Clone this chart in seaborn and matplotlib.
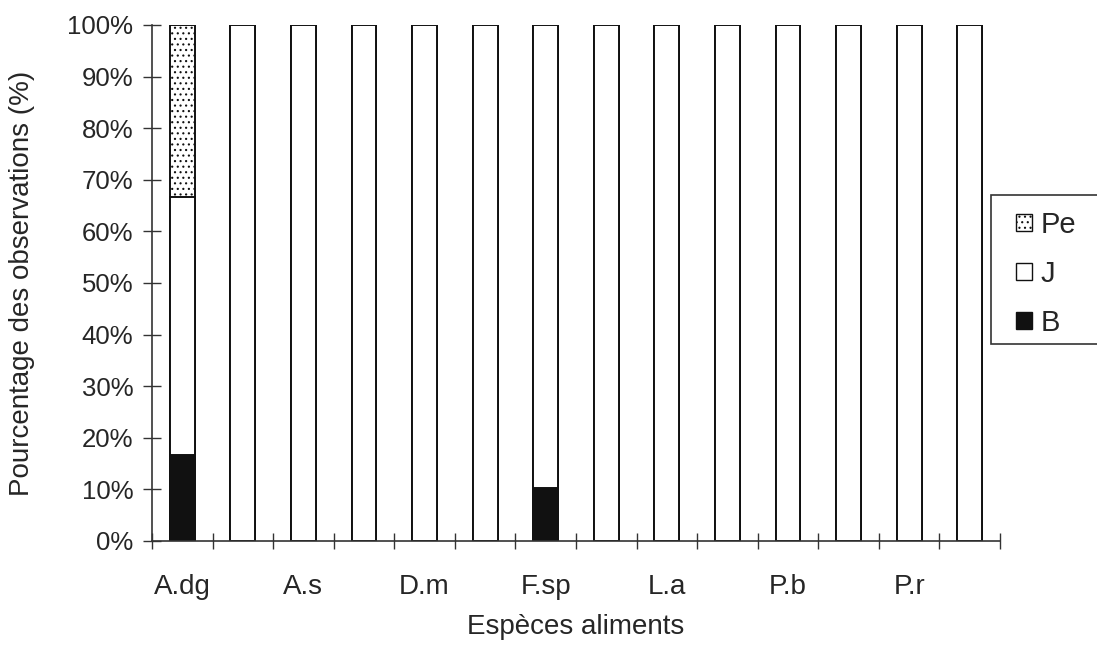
import matplotlib
matplotlib.use("Agg")
import matplotlib.pyplot as plt
from matplotlib.patches import Patch, Rectangle
from matplotlib.ticker import FixedLocator, PercentFormatter
import numpy as np
import pandas as pd
import seaborn as sns

# Food species (only every other label is printed on the axis)
tick_labels = ["A.dg", "", "A.s", "", "D.m", "", "F.sp", "", "L.a", "", "P.b", "", "P.r", ""]

# Share of observations per stage (%)
b_values = [16.7, 0, 0, 0, 0, 0, 10.3, 0, 0, 0, 0, 0, 0, 0]
j_values = [50.0, 100, 100, 100, 100, 100, 89.7, 100, 100, 100, 100, 100, 100, 100]
pe_values = [33.3, 0, 0, 0, 0, 0, 0, 0, 0, 0, 0, 0, 0, 0]

series_names = ["Pe", "J", "B"]

sns.set_style("white")
plt.rcParams["font.family"] = ["Liberation Sans", "DejaVu Sans"]
plt.rcParams["hatch.color"] = "#222222"
plt.rcParams["hatch.linewidth"] = 0.8

df = pd.DataFrame({
    "pos": np.arange(len(tick_labels)),
    "B": b_values,
    "J": j_values,
    "Pe": pe_values,
})
df["top_J"] = df["B"] + df["J"]
df["top_Pe"] = df["top_J"] + df["Pe"]

fig = plt.figure(figsize=(10.97, 6.52), dpi=100)
ax = fig.add_axes([152 / 1097, (652 - 541) / 652, (1000 - 152) / 1097, (541 - 25) / 652])

bar_kw = dict(native_scale=True, width=0.41, edgecolor="#111111", linewidth=1.4, errorbar=None, ax=ax)
# Stacked bars drawn from the tallest cumulative layer downwards
sns.barplot(data=df, x="pos", y="top_Pe", color="white", hatch="...", **bar_kw)
sns.barplot(data=df, x="pos", y="top_J", color="white", **bar_kw)
sns.barplot(data=df, x="pos", y="B", color="#111111", **bar_kw)

ax.set_xlim(-0.5, len(tick_labels) - 0.5)
ax.set_ylim(0, 100)

# y axis: percent ticks crossing the spine
ax.yaxis.set_major_locator(FixedLocator(np.arange(0, 101, 10)))
ax.yaxis.set_major_formatter(PercentFormatter(decimals=0))
ax.tick_params(axis="y", which="major", direction="inout", length=13, width=1,
               color="#333333", labelsize=18.5, pad=7, left=True)

# x axis: tick marks between categories, labels under the bars
ax.set_xticks(df["pos"].to_numpy())
ax.set_xticklabels(tick_labels)
ax.xaxis.set_minor_locator(FixedLocator(np.arange(-0.5, len(tick_labels), 1.0)))
ax.tick_params(axis="x", which="major", length=0, labelsize=20, pad=24)
ax.tick_params(axis="x", which="minor", direction="inout", length=11, width=1,
               color="#333333", bottom=True)

for side in ["top", "right"]:
    ax.spines[side].set_visible(False)
for side in ["left", "bottom"]:
    ax.spines[side].set_color("#333333")
    ax.spines[side].set_linewidth(1.2)

label_font = dict(fontsize=20)
ax.set_xlabel("Espèces aliments", **label_font)
ax.set_ylabel("Pourcentage des observations (%)", **label_font)
ax.xaxis.set_label_coords(0.5, (541 - 614) / 516)
ax.yaxis.set_label_coords((35 - 152) / 848, 0.5)

# Legend frame, open on the right side of the figure
fig.patches.append(Rectangle((991 / 1097, 1 - 344 / 652), 0.2, (344 - 195) / 652,
                             transform=fig.transFigure, facecolor="white",
                             edgecolor="#333333", linewidth=1.2, zorder=0))

handles = [
    Patch(facecolor="white", edgecolor="#111111", hatch="...", label="Pe"),
    Patch(facecolor="white", edgecolor="#111111", label="J"),
    Patch(facecolor="#111111", edgecolor="#111111", label="B"),
]
leg = fig.legend(handles=handles, loc="upper left",
                 bbox_to_anchor=(1016 / 1097, 1 - 211 / 652),
                 fontsize=21, frameon=False,
                 handlelength=0.55, handleheight=0.55, handletextpad=0.3,
                 labelspacing=0.72, borderpad=0, borderaxespad=0)

fig.savefig("out.png", dpi=100)
